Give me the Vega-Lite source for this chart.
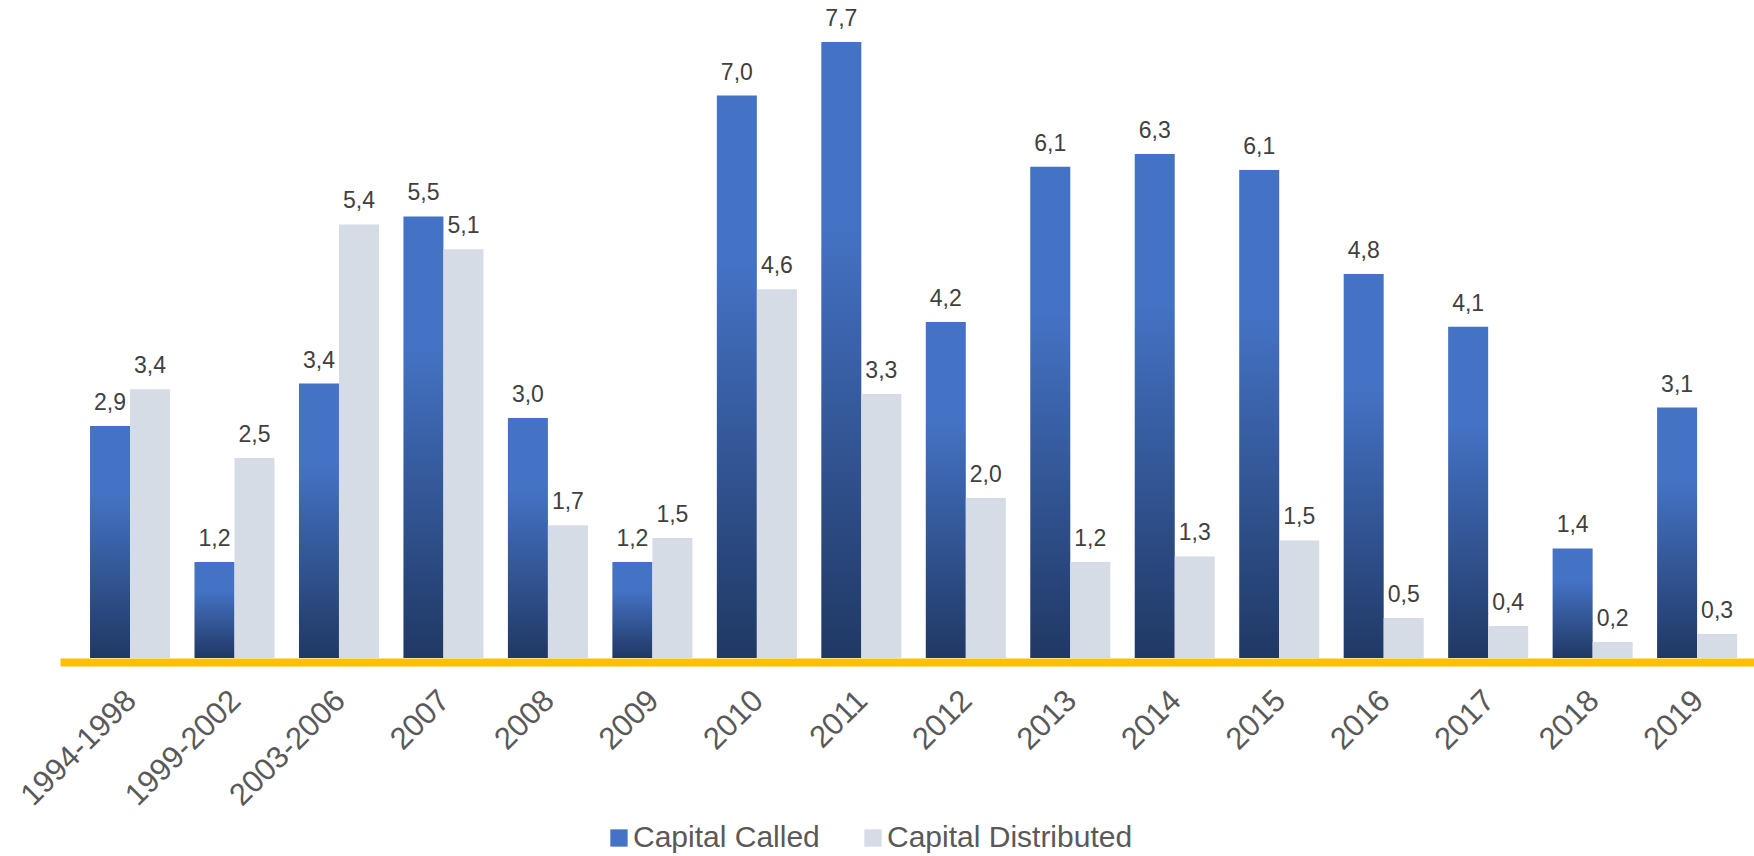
{
  "$schema": "https://vega.github.io/schema/vega-lite/v6.json",
  "width": 1694,
  "height": 658,
  "autosize": {"type": "none"},
  "padding": {"left": 60, "right": 0, "top": 0, "bottom": 198},
  "background": "#ffffff",
  "config": {
    "view": {"stroke": null},
    "font": "Liberation Sans",
    "locale": {"number": {"decimal": ",", "thousands": ".", "grouping": [3], "currency": ["", " €"]}}
  },
  "data": {
    "values": [
      {"period": "1994-1998", "series": "Capital Called", "value": 2.9},
      {"period": "1994-1998", "series": "Capital Distributed", "value": 3.36},
      {"period": "1999-2002", "series": "Capital Called", "value": 1.2},
      {"period": "1999-2002", "series": "Capital Distributed", "value": 2.5},
      {"period": "2003-2006", "series": "Capital Called", "value": 3.43},
      {"period": "2003-2006", "series": "Capital Distributed", "value": 5.42},
      {"period": "2007", "series": "Capital Called", "value": 5.52},
      {"period": "2007", "series": "Capital Distributed", "value": 5.11},
      {"period": "2008", "series": "Capital Called", "value": 3.0},
      {"period": "2008", "series": "Capital Distributed", "value": 1.66},
      {"period": "2009", "series": "Capital Called", "value": 1.2},
      {"period": "2009", "series": "Capital Distributed", "value": 1.5},
      {"period": "2010", "series": "Capital Called", "value": 7.03},
      {"period": "2010", "series": "Capital Distributed", "value": 4.61},
      {"period": "2011", "series": "Capital Called", "value": 7.7},
      {"period": "2011", "series": "Capital Distributed", "value": 3.3},
      {"period": "2012", "series": "Capital Called", "value": 4.2},
      {"period": "2012", "series": "Capital Distributed", "value": 2.0},
      {"period": "2013", "series": "Capital Called", "value": 6.14},
      {"period": "2013", "series": "Capital Distributed", "value": 1.2},
      {"period": "2014", "series": "Capital Called", "value": 6.3},
      {"period": "2014", "series": "Capital Distributed", "value": 1.27},
      {"period": "2015", "series": "Capital Called", "value": 6.1},
      {"period": "2015", "series": "Capital Distributed", "value": 1.47},
      {"period": "2016", "series": "Capital Called", "value": 4.8},
      {"period": "2016", "series": "Capital Distributed", "value": 0.5},
      {"period": "2017", "series": "Capital Called", "value": 4.14},
      {"period": "2017", "series": "Capital Distributed", "value": 0.4},
      {"period": "2018", "series": "Capital Called", "value": 1.37},
      {"period": "2018", "series": "Capital Distributed", "value": 0.2},
      {"period": "2019", "series": "Capital Called", "value": 3.13},
      {"period": "2019", "series": "Capital Distributed", "value": 0.3}
    ]
  },
  "encoding": {
    "x": {
      "field": "period",
      "type": "nominal",
      "sort": null,
      "scale": {"paddingInner": 0.234, "paddingOuter": 0.2245, "align": 0.64},
      "axis": {
        "title": null,
        "ticks": false,
        "domainColor": "#FFC000",
        "domainWidth": 8,
        "domainCap": "butt",
        "offset": 4,
        "labelAngle": -45,
        "labelFontSize": 31,
        "labelColor": "#595959",
        "labelPadding": 23,
        "labelOffset": -9,
        "labelFont": "Liberation Sans"
      }
    },
    "xOffset": {
      "field": "series",
      "type": "nominal",
      "scale": {"paddingInner": 0, "paddingOuter": 0}
    },
    "y": {
      "field": "value",
      "type": "quantitative",
      "scale": {"domain": [0, 8.225], "nice": false, "zero": true},
      "axis": null
    }
  },
  "layer": [
    {
      "mark": {"type": "bar"},
      "encoding": {
        "fill": {
          "condition": {
            "test": "datum.series === 'Capital Called'",
            "value": {"gradient": "linear", "x1": 0, "y1": 0, "x2": 0, "y2": 1,
              "stops": [{"offset": 0, "color": "#4472C4"}, {"offset": 0.3, "color": "#4472C4"}, {"offset": 1, "color": "#203864"}]}
          },
          "field": "series",
          "type": "nominal",
          "scale": {
            "domain": ["Capital Called", "Capital Distributed"],
            "range": ["#4472C4", "#D6DCE5"]
          },
          "legend": {
            "title": null,
            "orient": "none",
            "direction": "horizontal",
            "legendX": 544,
            "legendY": 823,
            "padding": 0,
            "symbolType": "square",
            "symbolSize": 300,
            "symbolStrokeWidth": 0,
            "labelFontSize": 30,
            "labelLimit": 500,
            "labelColor": "#595959",
            "labelFont": "Liberation Sans",
            "labelOffset": -1,
            "columnPadding": 38
          }
        }
      }
    },
    {
      "mark": {"type": "text", "baseline": "alphabetic", "align": "center", "dy": -16, "fontSize": 23, "color": "#404040", "font": "Liberation Sans"},
      "encoding": {
        "text": {"field": "value", "type": "quantitative", "format": ".1f"}
      }
    }
  ]
}
